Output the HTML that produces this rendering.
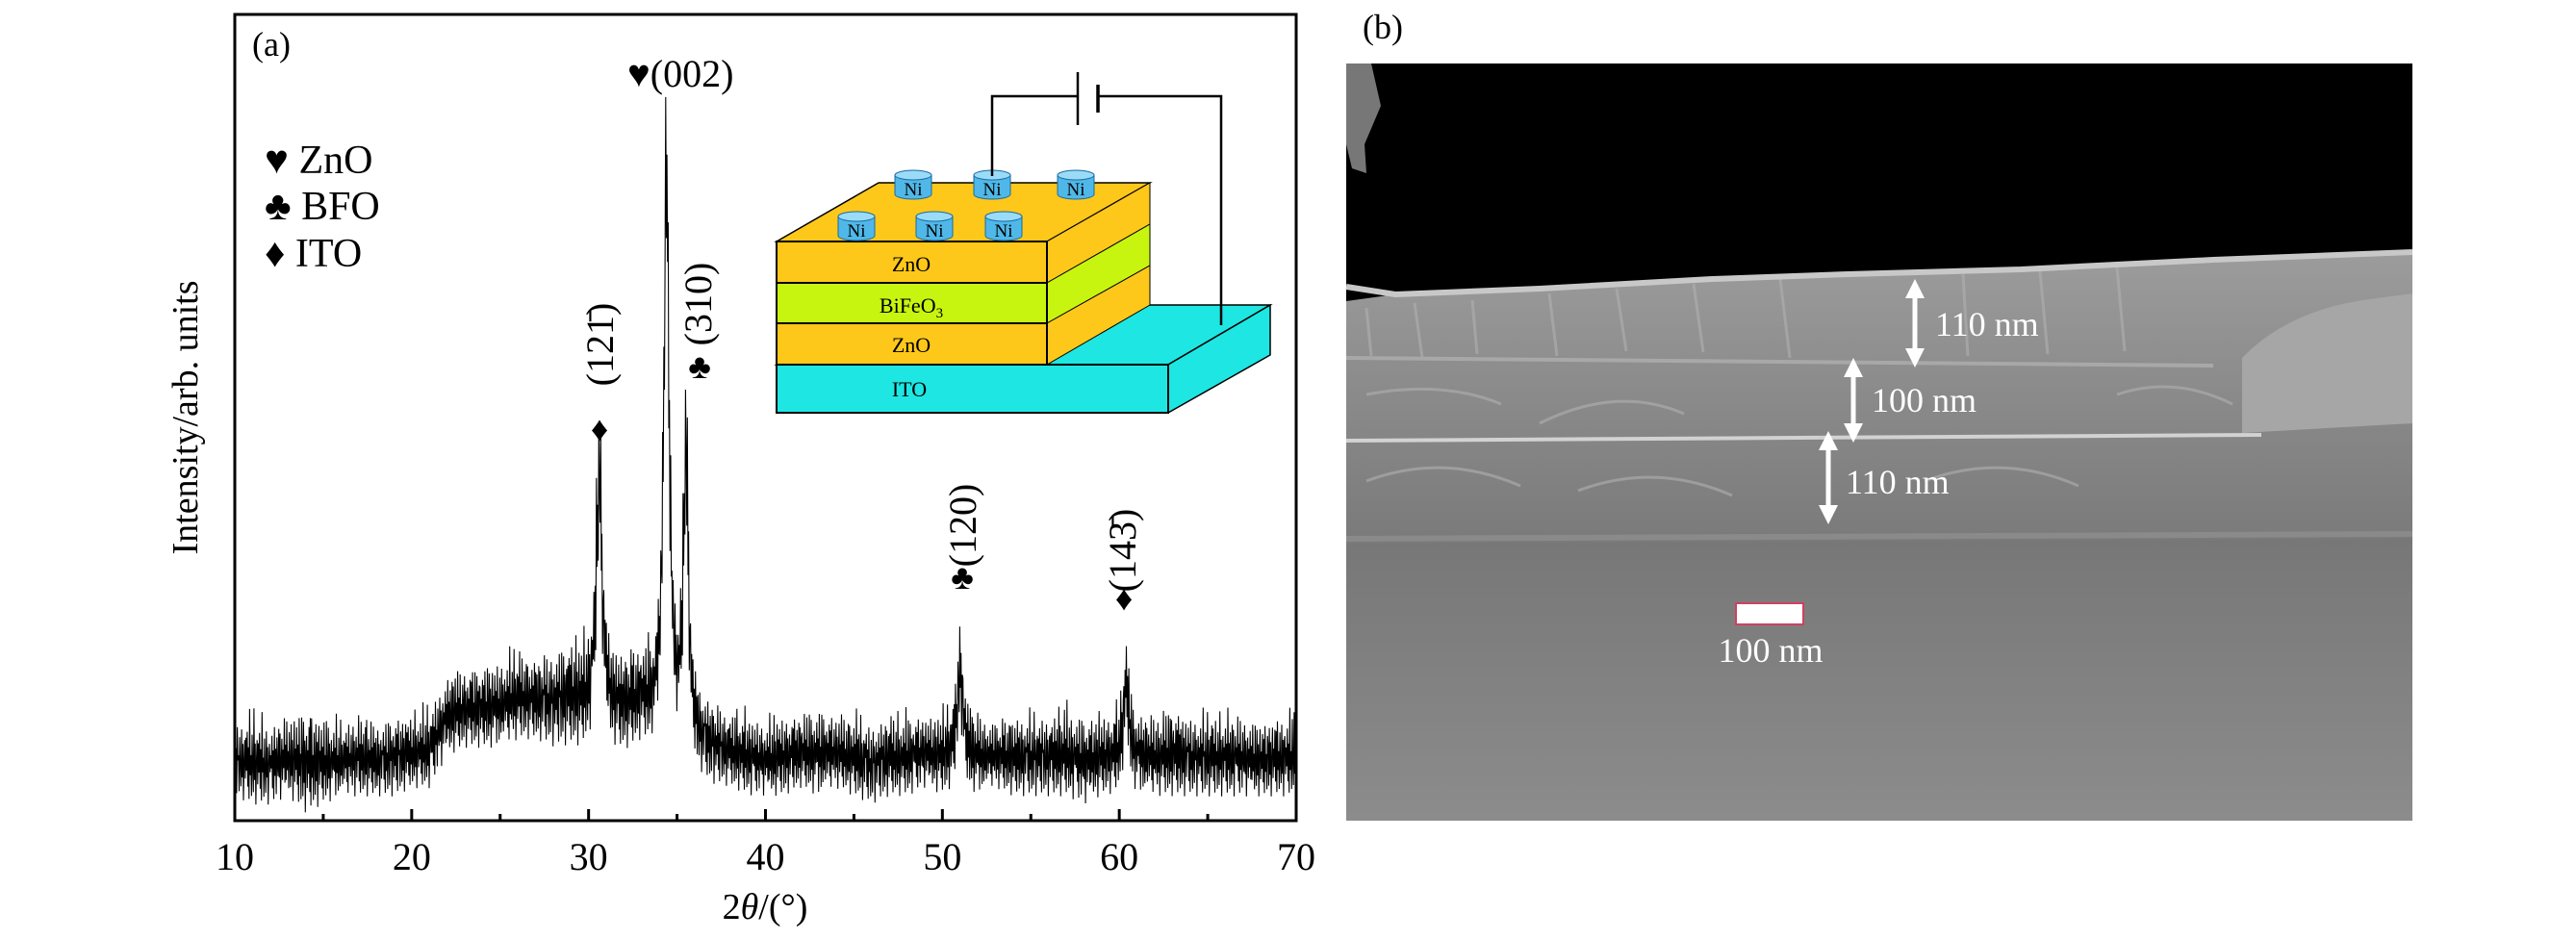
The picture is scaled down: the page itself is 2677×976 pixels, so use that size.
<!DOCTYPE html>
<html><head><meta charset="utf-8"><style>
html,body{margin:0;padding:0;background:#fff;}
svg{display:block;font-family:"Liberation Serif",serif;}
</style></head><body>
<svg id="fig" width="2677" height="976" viewBox="0 0 2677 976" xmlns="http://www.w3.org/2000/svg">
<defs>
<linearGradient id="subG" x1="0" y1="0" x2="0" y2="1">
<stop offset="0" stop-color="#5c5c5c"/><stop offset="0.4" stop-color="#6a6a6a"/><stop offset="1" stop-color="#8c8c8c"/>
</linearGradient>
<linearGradient id="filmG" x1="0" y1="0" x2="0" y2="1">
<stop offset="0" stop-color="#9c9c9c"/><stop offset="0.5" stop-color="#8a8a8a"/><stop offset="1" stop-color="#7a7a7a"/>
</linearGradient>
<marker id="ah" viewBox="0 0 10 10" refX="5" refY="5" markerWidth="4" markerHeight="4" orient="auto-start-reverse"><path d="M0,0 L10,5 L0,10 z" fill="#fff"/></marker>
</defs>
<g id="chart">
<rect x="244" y="15" width="1103" height="838" fill="none" stroke="#000" stroke-width="3"/>
<g id="series"></g>
<g id="xticks"></g>
<text x="795" y="955" font-size="38" text-anchor="middle">2<tspan font-style="italic">θ</tspan>/(°)</text>
<text transform="translate(205,434) rotate(-90)" font-size="38" text-anchor="middle">Intensity/arb. units</text>
<text x="262" y="58" font-size="36">(a)</text>
<g font-size="42">
<text x="275" y="180">♥ ZnO</text>
<text x="275" y="228">♣ BFO</text>
<text x="275" y="277">♦ ITO</text>
</g>
<text x="652" y="90" font-size="40">♥(002)</text>
<text transform="translate(637,358) rotate(-90)" font-size="40" text-anchor="middle">(121̄)</text>
<text x="623" y="458" font-size="36" text-anchor="middle">♦</text>
<text transform="translate(739,316) rotate(-90)" font-size="40" text-anchor="middle">(310)</text>
<text x="727" y="393" font-size="36" text-anchor="middle">♣</text>
<text transform="translate(1014,546) rotate(-90)" font-size="40" text-anchor="middle">(120)</text>
<text x="1000" y="612" font-size="36" text-anchor="middle">♣</text>
<text transform="translate(1180,572) rotate(-90)" font-size="40" text-anchor="middle">(143̄)</text>
<text x="1168" y="634" font-size="36" text-anchor="middle">♦</text>
<g font-size="22" text-anchor="middle">
<polygon points="807,379 913,317 1320,317 1214,379" fill="#1ee6e2" stroke="#000" stroke-width="1.5"/>
<polygon points="1214,379 1320,317 1320,369 1214,429" fill="#1ee6e2" stroke="#000" stroke-width="1.5"/>
<rect x="807" y="379" width="407" height="50" fill="#1ee6e2" stroke="#000" stroke-width="2"/>
<text x="945" y="412">ITO</text>
<polygon points="807,251 913,190 1195,190 1088,251" fill="#fec81a" stroke="#000" stroke-width="1.5"/>
<polygon points="1088,251 1195,190 1195,233 1088,294" fill="#fec81a" stroke="#000" stroke-width="1"/>
<polygon points="1088,294 1195,233 1195,276 1088,336" fill="#c8f50f" stroke="#000" stroke-width="1"/>
<polygon points="1088,336 1195,276 1195,317 1088,379" fill="#fec81a" stroke="#000" stroke-width="1"/>
<rect x="807" y="251" width="281" height="43" fill="#fec81a" stroke="#000" stroke-width="2"/>
<rect x="807" y="294" width="281" height="42" fill="#c8f50f" stroke="#000" stroke-width="2"/>
<rect x="807" y="336" width="281" height="43" fill="#fec81a" stroke="#000" stroke-width="2"/>
<text x="947" y="282">ZnO</text><text x="947" y="325">BiFeO<tspan font-size="15" dy="5">3</tspan></text><text x="947" y="366">ZnO</text>
<g id="ni"></g>
<polyline points="1031,183 1031,100 1120,100" fill="none" stroke="#000" stroke-width="2.5"/>
<polyline points="1141,100 1269,100 1269,338" fill="none" stroke="#000" stroke-width="2.5"/>
<line x1="1120" y1="75" x2="1120" y2="130" stroke="#000" stroke-width="2.5"/>
<line x1="1141" y1="88" x2="1141" y2="117" stroke="#000" stroke-width="3.5"/>
</g>
</g>
<g>
<text x="1416" y="40" font-size="36">(b)</text>
<rect x="1399" y="66" width="1108" height="787" fill="url(#subG)"/>
<rect x="1399" y="66" width="1108" height="250" fill="#000"/>
<path d="M1399,313 L1450,306 L1600,300 L1780,290 L1920,285 L2100,280 L2300,270 L2507,262 L2507,560 L1399,565 z" fill="url(#filmG)"/>
<g stroke="#b0b0b0" stroke-width="3" opacity="0.6" fill="none">
<path d="M1420,320 L1425,370 M1470,315 L1478,372 M1530,312 L1535,368 M1610,305 L1618,370 M1680,300 L1690,365 M1760,295 L1770,366 M1850,290 L1860,372 M2040,285 L2045,370 M2120,282 L2128,368 M2200,278 L2208,365"/>
<path d="M1420,410 Q1500,395 1560,420 M1600,440 Q1680,400 1750,430 M1420,500 Q1500,470 1580,505 M1640,510 Q1720,480 1800,515 M2000,500 Q2080,470 2160,505 M2200,410 Q2260,390 2320,420"/>
</g>
<path d="M1399,298 L1450,306 L1600,300 L1780,290 L1920,285 L2100,280 L2300,270 L2507,262" fill="none" stroke="#c8c8c8" stroke-width="6"/>
<line x1="1399" y1="458" x2="2350" y2="452" stroke="#d2d2d2" stroke-width="4"/>
<line x1="1399" y1="372" x2="2300" y2="380" stroke="#a8a8a8" stroke-width="4"/>
<path d="M2330,372 Q2380,320 2470,310 L2507,305 L2507,440 L2330,450 z" fill="#a6a6a6"/>
<path d="M1399,560 L2507,555" stroke="#8a8a8a" stroke-width="6"/>
<path d="M1399,66 L1425,66 L1435,110 L1418,150 L1420,180 L1405,175 L1399,150 z" fill="#777"/>
<g stroke="#fff" stroke-width="5" marker-start="url(#ah)" marker-end="url(#ah)">
<line x1="1990" y1="300" x2="1990" y2="372"/>
<line x1="1926" y1="382" x2="1926" y2="450"/>
<line x1="1900" y1="458" x2="1900" y2="535"/>
</g>
<g fill="#fff" font-size="36">
<text x="2011" y="349">110 nm</text>
<text x="1945" y="428">100 nm</text>
<text x="1918" y="513">110 nm</text>
<rect x="1804" y="627" width="70" height="22" fill="#fff" stroke="#d04060" stroke-width="2"/>
<text x="1840" y="688" text-anchor="middle">100 nm</text>
</g>
</g>
</svg>
<script>
// Data arrays
const angles = [10,11,12,13,14,15,16,17,18,19,20,21,22,23,24,25,26,27,28,29,30,31,32,33,34,35,36,37,38,39,40,41,42,43,44,45,46,47,48,49,50,51,52,53,54,55,56,57,58,59,60,61,62,63,64,65,66,67,68,69,70];
const upperEnv = [13,14,13,14,15,14,13,14,13,14,14,15,19,20,20,21,22,21,22,23,22,21,21,22,18,17,16,15,14,14,13,14,14,15,14,14,13,14,14,14,14,14,14,13,14,14,14,15,14,14,14,14,14,15,14,14,14,14,13,14,14];
const lowerEnv = [3,2,2,3,1,2,3,3,3,3,4,4,8,9,9,9,10,10,9,9,8,8,8,9,7,6,5,4,4,3,3,3,4,3,4,3,2,3,3,4,3,3,3,4,3,3,3,3,2,3,3,3,3,3,3,3,3,3,3,3,3];
const peakPos = [30.6, 34.4, 35.5, 51.0, 60.4];
const peakHeight = [34, 82, 42, 13, 11];
const peakWidth = [0.2, 0.18, 0.16, 0.2, 0.18];
const xTicks = [10,20,30,40,50,60,70];
const xMinorTicks = [15,25,35,45,55,65];
const noisePattern = [0.9,0.2,0.7,0.05,1.0,0.35,0.6,0.1,0.85,0.45,0.15,0.95,0.3,0.75,0.0,0.55,0.8,0.25,0.65,0.4];
const niBack = [949,1031,1118];
const niFront = [890,971,1043];

const NS="http://www.w3.org/2000/svg";
const X0=244,X1=1347,Y0=853,Y1=15;
function xs(a){return X0+(a-10)/60*(X1-X0);}
function ys(v){return Y0-v/100*(Y0-Y1);}
function envAt(arr,a){const i=Math.min(Math.floor(a-10),59);const t=a-10-i;return arr[i]*(1-t)+arr[i+1]*t;}
function peakAt(a){let s=0;for(let k=0;k<peakPos.length;k++){const d=(a-peakPos[k])/peakWidth[k];s+=peakHeight[k]/(1+d*d);}return s;}

const series=document.getElementById('series');
let pts=[];let n=0;
for(let a=10;a<=70.0001;a+=0.035){
  const p=peakAt(a);
  const lo=envAt(lowerEnv,a)+p*0.7, hi=envAt(upperEnv,a)+p;
  const f=noisePattern[n%noisePattern.length]*((n%7===3)?1:0.85)+((n%13===5)?0.15:0);
  pts.push(xs(a).toFixed(1)+','+ys(lo+(hi-lo)*Math.min(f,1)).toFixed(1));
  n++;
}
const pl=document.createElementNS(NS,'polyline');
pl.setAttribute('points',pts.join(' '));
pl.setAttribute('fill','none');pl.setAttribute('stroke','#000');pl.setAttribute('stroke-width','1.1');


series.appendChild(pl);

const xt=document.getElementById('xticks');
xTicks.forEach(t=>{
  const l=document.createElementNS(NS,'line');
  l.setAttribute('x1',xs(t));l.setAttribute('x2',xs(t));l.setAttribute('y1',Y0);l.setAttribute('y2',Y0-12);
  l.setAttribute('stroke','#000');l.setAttribute('stroke-width','3');
  
  
  xt.appendChild(l);
  const tx=document.createElementNS(NS,'text');
  tx.setAttribute('x',xs(t));tx.setAttribute('y',904);tx.setAttribute('font-size','40');tx.setAttribute('text-anchor','middle');
  tx.textContent=t;
  
  
  xt.appendChild(tx);
});
xMinorTicks.forEach(t=>{
  const l=document.createElementNS(NS,'line');
  l.setAttribute('x1',xs(t));l.setAttribute('x2',xs(t));l.setAttribute('y1',Y0);l.setAttribute('y2',Y0-7);
  l.setAttribute('stroke','#000');l.setAttribute('stroke-width','3');
  
  
  xt.appendChild(l);
});

const ni=document.getElementById('ni');
function cyl(cx,top){
  const g=document.createElementNS(NS,'g');
  
  
  g.innerHTML='<path d="M'+(cx-19)+','+top+' L'+(cx-19)+','+(top+20)+' A19,5 0 0 0 '+(cx+19)+','+(top+20)+' L'+(cx+19)+','+top+' z" fill="#4fb8e8" stroke="#1a6aa0" stroke-width="1"/>'+
   '<ellipse cx="'+cx+'" cy="'+top+'" rx="19" ry="5" fill="#9adcf8" stroke="#1a6aa0" stroke-width="1"/>'+
   '<text x="'+cx+'" y="'+(top+21)+'" font-size="19" text-anchor="middle">Ni</text>';
  ni.appendChild(g);
}
niBack.forEach(c=>cyl(c,182));
niFront.forEach(c=>cyl(c,225));
</script>
</body></html>
